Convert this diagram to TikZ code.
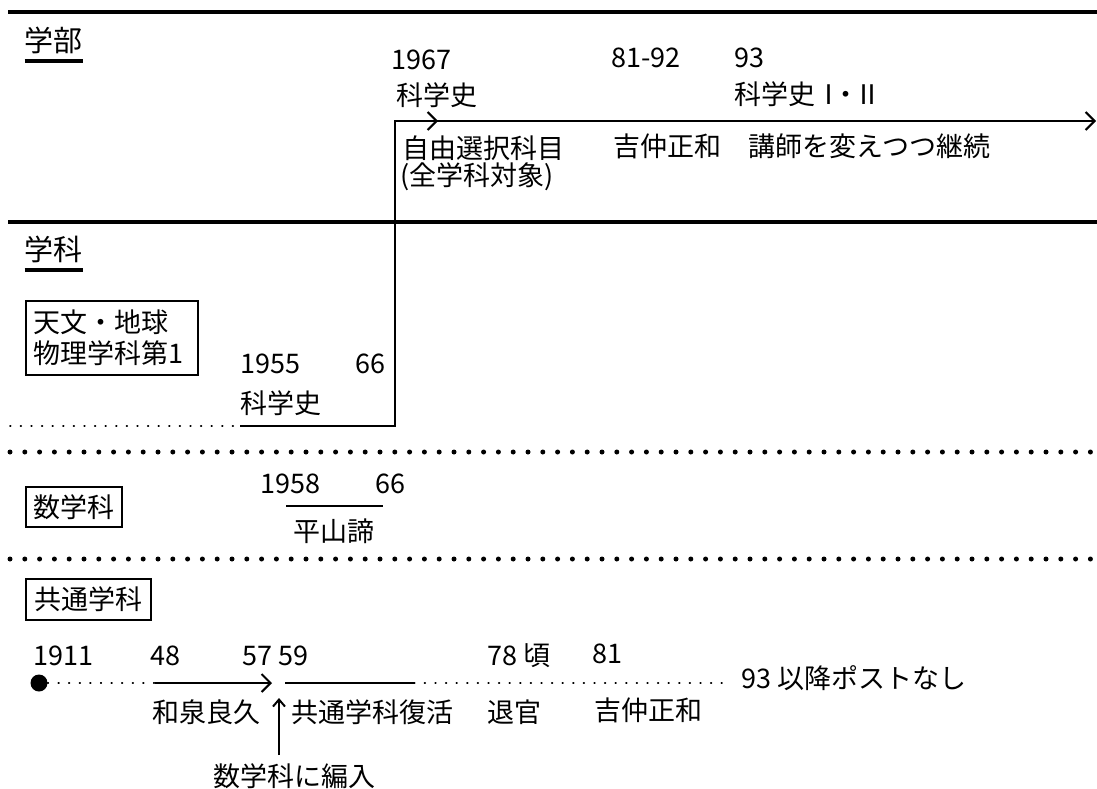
\documentclass[tikz,border=0pt]{standalone}
\usepackage{fontspec}
\setmainfont{Noto Sans CJK JP}
\usetikzlibrary{arrows.meta}
\begin{document}
\begin{tikzpicture}[x=1pt,y=-1pt,
  txt/.style={inner sep=0pt, anchor=base west, font=\fontsize{27}{31}\selectfont},
  head/.style={inner sep=0pt, anchor=base west, font=\fontsize{29}{31}\selectfont},
  boxed/.style={draw, line width=2pt, inner xsep=7.5pt, inner ysep=0pt, anchor=north west, font=\fontsize{27}{31}\selectfont},
  rulethick/.style={line width=4.5pt},
  ln/.style={line width=2pt},
  bigdot/.style={line width=5pt, line cap=round, dash pattern=on 0pt off 14.8pt},
  smalldot/.style={line width=1.8pt, line cap=round, dash pattern=on 0.6pt off 10pt},
  barb/.style={-{Straight Barb[length=9pt,width=18pt]}},
  smallbarb/.style={-{Straight Barb[length=7pt,width=12pt]}}
]
\useasboundingbox (0,0) rectangle (1097,789);

% main rules
\draw[rulethick] (8,12) -- (1097,12);
\draw[rulethick] (8,222) -- (1097,222);
\draw[bigdot] (10,452) -- (1097,452);
\draw[bigdot] (10,559) -- (1097,559);

% headings
\node[head] (gakubu) at (24.5,52) {学部};
\draw[line width=4pt] ([yshift=-9pt]gakubu.base west) -- ([yshift=-9pt]gakubu.base east);
\node[head] (gakka) at (24.5,260) {学科};
\draw[line width=4pt] ([yshift=-10pt]gakka.base west) -- ([yshift=-10pt]gakka.base east);

% faculty level
\node[txt] (n1967) at (391,70) {1967};
\node[txt] (ks1) at (396,106) {科学史};
\node[txt] (n8192) at (611,68) {81-92};
\node[txt] (n93) at (734,68) {93};
\node[txt] (ks12) at (734,105) {科学史Ⅰ\kern-10pt・\kern-5ptⅡ};
\node[txt] (jiyu) at (402,158) {自由選択科目};
\node[txt] (zen) at (400,185) {(全学科対象)};
\node[txt] (yoshi1) at (613,156) {吉仲正和};
\node[txt] (koushi) at (748,156) {講師を変えつつ継続};

% department: astronomy / geophysics
\node[boxed, text width=157pt, align=left, minimum height=74pt] (tenmon) at (24.5,300) {天文・地球\\物理学科第1};
\node[txt] (n1955) at (240,373) {1955};
\node[txt] (n66a) at (355,373) {66};
\node[txt] (ks2) at (240,413) {科学史};

\coordinate (a0) at (10,426);
\coordinate (a1) at (240,426);
\coordinate (a2) at (395,426);
\coordinate (a3) at (395,121);
\coordinate (a4) at (1096,121);
\coordinate (am) at (438,121);
\draw[smalldot] (a0) -- (a1);
\draw[ln, barb] (a1) -- (a2) -- (a3) -- (a4);
\draw[ln, barb] (a3) -- (am);

% mathematics
\node[boxed, minimum height=40pt] (suugaku) at (24.5,486) {数学科};
\node[txt] (n1958) at (260,493) {1958};
\node[txt] (n66b) at (375,493) {66};
\coordinate (h0) at (286,506);
\coordinate (h1) at (383,506);
\draw[line width=2.5pt] (h0) -- (h1);
\node[txt] (hirayama) at (293,541) {平山諦};

% common department
\node[boxed, inner xsep=8.5pt, minimum height=41pt] (kyoutsuu) at (24.5,578) {共通学科};
\node[txt] (n1911) at (33,665) {1911};
\node[txt] (n48) at (150,665) {48};
\node[txt] (n5759) at (242,665) {57 59};
\node[txt] (n78) at (487,665) {78 頃};
\node[txt] (n81) at (592,663) {81};
\node[txt] (post) at (741,688) {93 以降ポストなし};

\node[circle, fill, minimum size=17pt, inner sep=0pt] (dot) at (39,683) {};
\coordinate (b1) at (155,683);
\coordinate (b2) at (272,683);
\coordinate (b3) at (285,683);
\coordinate (b4) at (414,683);
\coordinate (b5) at (727,683);
\draw[smalldot] (dot.east) -- (b1);
\draw[ln, barb] (b1) -- (b2);
\draw[ln] (b3) -- (b4);
\draw[smalldot] (b4) -- (b5);

\node[txt] (izumi) at (152,722) {和泉良久};
\node[txt] (fukkatsu) at (291,722) {共通学科復活};
\node[txt] (taikan) at (487,722) {退官};
\node[txt] (yoshi2) at (594,720) {吉仲正和};

\coordinate (c0) at (279,755);
\coordinate (c1) at (279,698);
\draw[ln, smallbarb] (c0) -- (c1);
\node[txt] (hennyu) at (213,786) {数学科に編入};
\end{tikzpicture}
\end{document}
